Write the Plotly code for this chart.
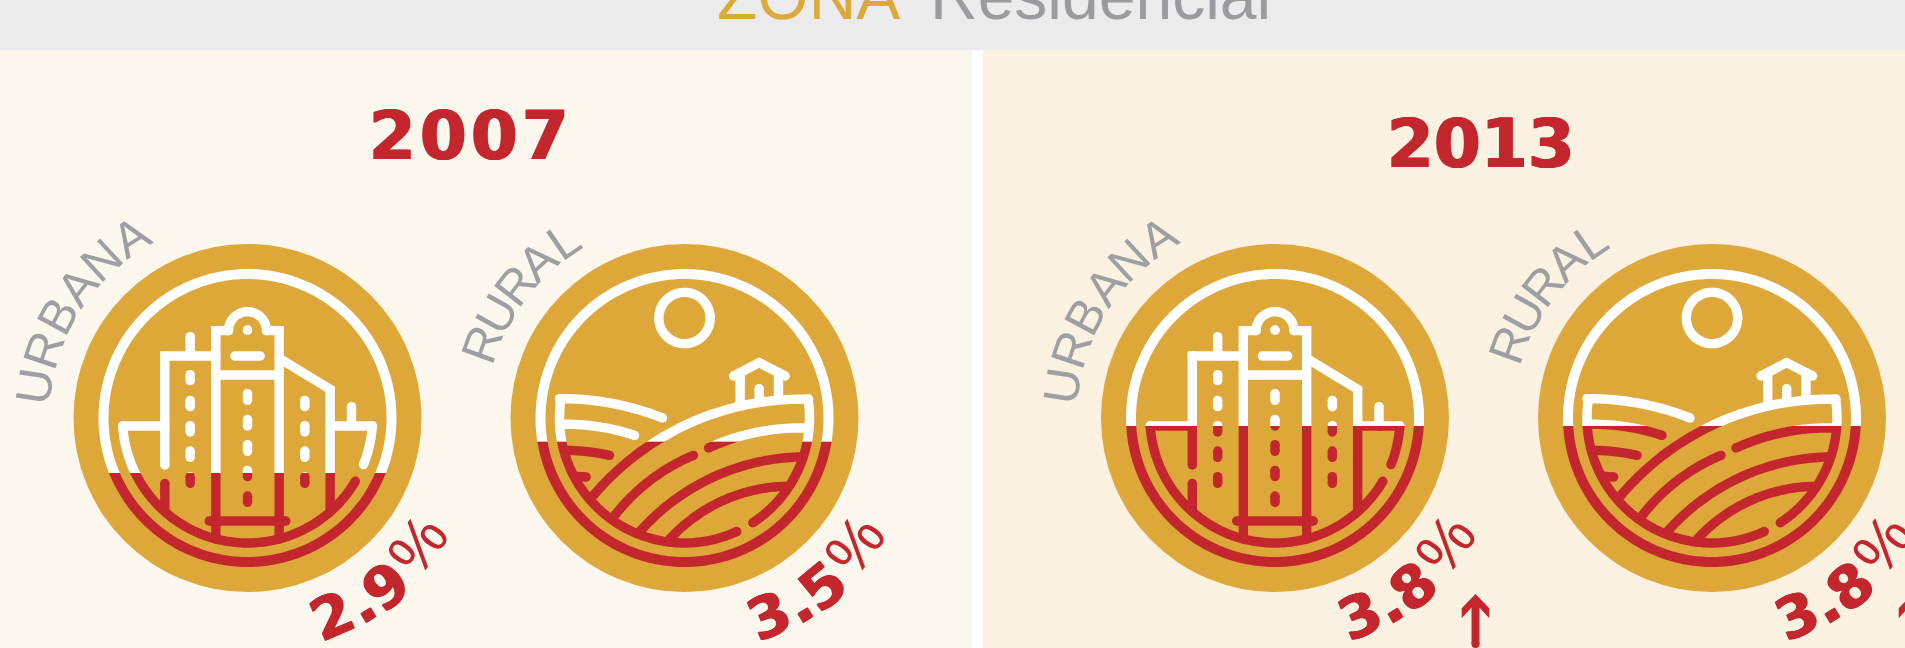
import numpy as np
import plotly.graph_objects as go

# ---------- data ----------
YEARS = ["2007", "2013"]
ZONES = ["URBANA", "RURAL", "URBANA", "RURAL"]
ZONE_KIND = ["urban", "rural", "urban", "rural"]
VALUES = [2.9, 3.5, 3.8, 3.8]
TREND = [None, None, "up", "up"]
TITLE_A = "ZONA"
TITLE_B = "Residencial"

# ---------- page layout (pixels) ----------
W, H = 1905, 648
CX = [247.5, 684.5, 1275, 1712]
CY = 418
YEAR_POS = [(468.7, 135.5), (1481, 144)]
YEAR_PITCH = [51, 47]
LEVEL_2_9 = 473
LEVEL_PER_UNIT = 52.2

GOLD = "#DDA73A"
RED = "#C3262D"
WHITE = "#FFFFFF"
GREY = "#9D9FA2"
TITLE_GREY = "#999B9E"
FONT = "Liberation Sans"
WIDE = "DejaVu Sans"
THICK = f"1px 0 0 {RED}, -1px 0 0 {RED}"


def arc(cx, cy, r, a0, a1, n=160):
    a = np.radians(np.linspace(a0, a1, n))
    return list(cx + r * np.cos(a)), list(cy + r * np.sin(a))


def arc3(p0, pm, p1, n=60):
    """Circular arc through three points."""
    (ax, ay), (bx, by), (cx, cy) = p0, pm, p1
    d = 2 * (ax * (by - cy) + bx * (cy - ay) + cx * (ay - by))
    ux = ((ax**2 + ay**2) * (by - cy) + (bx**2 + by**2) * (cy - ay) + (cx**2 + cy**2) * (ay - by)) / d
    uy = ((ax**2 + ay**2) * (cx - bx) + (bx**2 + by**2) * (ax - cx) + (cx**2 + cy**2) * (bx - ax)) / d
    r = np.hypot(ax - ux, ay - uy)
    a0 = np.arctan2(ay - uy, ax - ux)
    am = np.arctan2(by - uy, bx - ux)
    a1 = np.arctan2(cy - uy, cx - ux)
    am = a0 + ((am - a0 + np.pi) % (2 * np.pi) - np.pi)
    a1 = am + ((a1 - am + np.pi) % (2 * np.pi) - np.pi)
    t = np.linspace(a0, a1, n)
    return list(ux + r * np.cos(t)), list(uy + r * np.sin(t))


def straight(*pts):
    return [p[0] for p in pts], [p[1] for p in pts]


def urban_icon():
    o = (565, 564)
    L = []
    L.append(arc(*o, 375, 176.3, 30.4))
    L.append(arc(*o, 375, 21.9, 3.7, 40))
    L.append(straight((190, 588), (317, 588)))
    L.append(straight((317, 705), (317, 378), (470, 378)))
    L.append(straight((317, 760), (317, 845)))
    L.append(straight((393, 320), (393, 378)))
    L.append(straight((470, 927), (470, 302), (508, 302)))
    L.append(straight((660, 927), (660, 302), (622, 302)))
    L.append(arc(565, 302, 57, 180, 360, 50))
    L.append(straight((470, 435), (660, 435)))
    L.append(straight((527, 378), (603, 378)))
    L.append(straight((450, 873), (680, 873)))
    L.append(straight((660, 385), (813, 478), (813, 845)))
    L.append(straight((813, 588), (940, 588)))
    L.append(straight((877, 530), (877, 588)))
    L.append(straight((565, 300), (565, 300.5)))
    for x, spans in ((393, [(434, 452), (511, 530), (587, 606), (663, 682), (740, 760)]),
                     (565, [(491, 511), (568, 588), (644, 664), (721, 740), (798, 817)]),
                     (737, [(511, 530), (587, 606), (663, 682), (740, 760)])):
        for a, b in spans:
            L.append(straight((x, a), (x, b)))
    return L, o


def rural_icon():
    o = (553, 563)
    L = []
    L.append(arc(*o, 375, 188.8, 65.3))
    L.append(arc(*o, 375, -8.9, 56.9, 100))
    L.append(arc(553, 263, 77, 0, 360, 100))
    L.append(straight((700, 437), (777, 397), (855, 437)))
    L.append(straight((720, 437), (720, 520)))
    L.append(straight((835, 437), (835, 503)))
    L.append(straight((777, 475), (777, 510)))
    L.append(arc3((178, 505), (340, 520), (487, 563)))
    L.append(arc3((178, 582), (300, 590), (403, 615)))
    L.append(arc3((195, 660), (270, 665), (328, 675)))
    L.append(straight((230, 738), (258, 740)))
    L.append(arc3((925, 507), (600, 565), (280, 795)))
    L.append(arc3((580, 675), (450, 750), (340, 860)))
    L.append(arc3((915, 593), (760, 608), (625, 653)))
    L.append(arc3((895, 680), (640, 740), (418, 905)))
    L.append(arc3((865, 768), (670, 810), (510, 925)))
    return L, o


def to_trace_lists(lines, origin):
    """Zoomed glyph coordinates -> pixel offsets from the disc centre."""
    lx, ly, dx, dy = [], [], [], []
    for xs, ys in lines:
        X = [(v - origin[0]) / 3 for v in xs]
        Y = [(v - origin[1]) / 3 for v in ys]
        lx += X + [None]
        ly += Y + [None]
        if len(xs) <= 4:          # every vertex of a straight polyline gets a round dot
            dx += X
            dy += Y
        else:                     # curves only need round ends
            dx += [X[0], X[-1]]
            dy += [Y[0], Y[-1]]
    return lx, ly, dx, dy


fig = go.Figure()
axes = {}

# base axes in page pixels
axes["xaxis"] = dict(range=[0, W], domain=[0, 1], visible=False, fixedrange=True)
axes["yaxis"] = dict(range=[H, 0], domain=[0, 1], visible=False, fixedrange=True)

# arrows on base axes
for cx, trend in zip(CX, TREND):
    if trend == "up":
        ax = cx + 200.5
        fig.add_trace(go.Scatter(x=[ax, ax + 13.8, ax + 13.8, ax + 4, ax + 4, ax - 4, ax - 4, ax - 13.8, ax - 13.8, ax],
                                 y=[594, 608.3, 618.3, 607.5, 644, 644, 607.5, 618.3, 608.3, 594],
                                 mode="lines", fill="toself",
                                 fillcolor=RED, line=dict(color=RED, width=0, simplify=False),
                                 hoverinfo="skip", showlegend=False))
        fig.add_trace(go.Scatter(x=[ax], y=[644], mode="markers",
                                 marker=dict(color=RED, size=8, line=dict(width=0)),
                                 hoverinfo="skip", showlegend=False))

# icons: one clipped subplot above the level (white), one below it (red)
EXT = 155
RING_R = 144
k = 2
for cx, kind, value in zip(CX, ZONE_KIND, VALUES):
    level = LEVEL_2_9 - LEVEL_PER_UNIT * (value - 2.9)
    lines, origin = urban_icon() if kind == "urban" else rural_icon()
    lx, ly, dx, dy = to_trace_lists(lines, origin)
    rx, ry = arc(0, 0, RING_R, 0, 360, 360)
    for colour, y_rng, y_dom in (
        (WHITE, [level - CY, -EXT], [1 - level / H, 1 - (CY - EXT) / H]),
        (RED, [EXT, level - CY], [1 - (CY + EXT) / H, 1 - level / H]),
    ):
        xn, yn = f"x{k}", f"y{k}"
        axes[f"xaxis{k}"] = dict(range=[-EXT, EXT], domain=[(cx - EXT) / W, (cx + EXT) / W],
                                 anchor=yn, visible=False, fixedrange=True)
        axes[f"yaxis{k}"] = dict(range=y_rng, domain=y_dom, anchor=xn, visible=False, fixedrange=True)
        fig.add_trace(go.Scatter(x=rx, y=ry, xaxis=xn, yaxis=yn, mode="lines",
                                 line=dict(color=colour, width=10, simplify=False),
                                 hoverinfo="skip", showlegend=False))
        fig.add_trace(go.Scatter(x=lx, y=ly, xaxis=xn, yaxis=yn, mode="lines", connectgaps=False,
                                 line=dict(color=colour, width=9.4, simplify=False),
                                 hoverinfo="skip", showlegend=False))
        fig.add_trace(go.Scatter(x=dx, y=dy, xaxis=xn, yaxis=yn, mode="markers",
                                 marker=dict(color=colour, size=9.4, line=dict(width=0)),
                                 hoverinfo="skip", showlegend=False))
        k += 1

# backgrounds and discs
shapes = [
    dict(type="rect", x0=0, x1=W, y0=0, y1=50, fillcolor="#EBEBEB"),
    dict(type="rect", x0=0, x1=972, y0=50, y1=H, fillcolor="#FBF7EC"),
    dict(type="rect", x0=972, x1=983, y0=50, y1=H, fillcolor="#FFFFFF"),
    dict(type="rect", x0=983, x1=W, y0=50, y1=H, fillcolor="#FAF1E1"),
]
for cx in CX:
    shapes.append(dict(type="circle", x0=cx - 174, x1=cx + 174, y0=CY - 174, y1=CY + 174, fillcolor=GOLD))
for s in shapes:
    s.update(xref="x", yref="y", layer="below", line=dict(width=0))

# text
ann = []


def text(x, y, s, size, colour, family=FONT, angle=0, bold=False, xanchor="center", yanchor="middle", shadow=None):
    f = dict(family=family, size=size, color=colour, weight=700 if bold else 400)
    if shadow:
        f["shadow"] = shadow
    ann.append(dict(x=x, y=y, xref="x", yref="y", text=s, showarrow=False, textangle=angle,
                    xanchor=xanchor, yanchor=yanchor, align="center", font=f))


text(715, 35.5, TITLE_A, 66, GOLD, xanchor="left", yanchor="bottom")
text(928, 35.5, TITLE_B, 66, TITLE_GREY, xanchor="left", yanchor="bottom")
for (x, y), yr, pitch in zip(YEAR_POS, YEARS, YEAR_PITCH):
    for i, ch in enumerate(yr):
        text(x + (i - 1.5) * pitch, y, ch, 67, RED, family=WIDE, bold=True, shadow=THICK)

ZONE_ANGLES = {"URBANA": [-81.5, -71.5, -61.8, -52.2, -42.8, -32.8],
               "RURAL": [-70, -61, -52, -43, -34.4]}
PCT_ANGLES = [23.2, 31.4, 39.3, 53.4]
PCT_RADII = [215, 217, 218, 212]
for cx, zone, value in zip(CX, ZONES, VALUES):
    for ch, a in zip(zone, ZONE_ANGLES[zone]):
        t = np.radians(a)
        text(cx + 215 * np.sin(t), CY - 215 * np.cos(t), ch, 49, GREY, angle=a)
    chars = list(f"{value:.1f}") + ["%"]
    for i, ch in enumerate(chars):
        t = np.radians(PCT_ANGLES[i])
        r = PCT_RADII[i]
        if ch == "%":
            text(cx + r * np.sin(t), CY + r * np.cos(t), ch, 62, RED, angle=-PCT_ANGLES[i])
        else:
            text(cx + r * np.sin(t), CY + r * np.cos(t), ch, 58, RED, family=WIDE, bold=True,
                 angle=-PCT_ANGLES[i], shadow=THICK)

fig.update_layout(width=W, height=H, margin=dict(l=0, r=0, t=0, b=0, pad=0), autosize=False,
                  paper_bgcolor="#FFFFFF", plot_bgcolor="rgba(0,0,0,0)", showlegend=False,
                  shapes=shapes, annotations=ann, **axes)
fig.write_html("out.html", config={"displayModeBar": False},
               post_script="document.body.style.margin='0';document.documentElement.style.overflow='hidden';")
